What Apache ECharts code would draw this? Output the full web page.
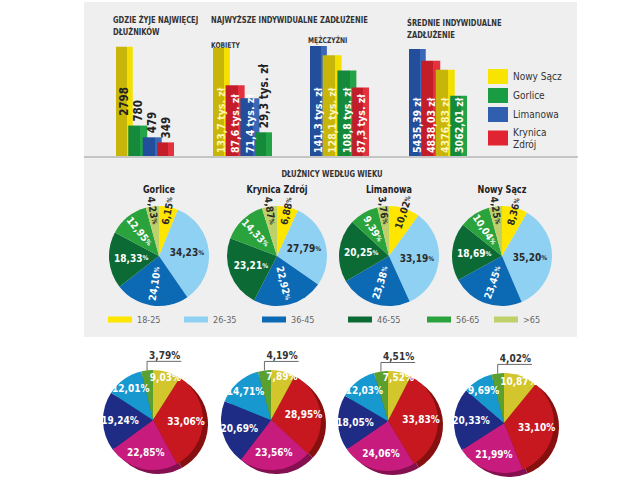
<!DOCTYPE html>
<html><head><meta charset="utf-8">
<script src="https://cdn.jsdelivr.net/npm/echarts@6/dist/echarts.min.js"></script>
<style>html,body{margin:0;padding:0;background:#fff}#c{width:640px;height:480px}</style>
</head><body><div id="c"></div>
<script>
// ---------- DATA ----------
const cities = ['Nowy Sącz', 'Gorlice', 'Limanowa', 'Krynica Zdrój'];
const residentsOrder = ['Nowy Sącz', 'Gorlice', 'Limanowa', 'Krynica Zdrój'];
const residentsValues = [2798, 780, 479, 349];
const womenOrder = ['Nowy Sącz', 'Krynica Zdrój', 'Limanowa', 'Gorlice'];
const womenValues = [133.7, 87.6, 71.4, 29.3];
const menOrder = ['Limanowa', 'Nowy Sącz', 'Gorlice', 'Krynica Zdrój'];
const menValues = [141.3, 128.1, 108.8, 87.3];
const avgOrder = ['Limanowa', 'Krynica Zdrój', 'Nowy Sącz', 'Gorlice'];
const avgValues = [5435.39, 4838.03, 4376.83, 3062.01];

const ageGroups = ['18-25', '26-35', '36-45', '46-55', '56-65', '>65'];
const ageCities = ['Gorlice', 'Krynica Zdrój', 'Limanowa', 'Nowy Sącz'];
const ageGorlice = [6.15, 34.23, 24.10, 18.33, 12.95, 4.23];
const ageKrynica = [6.88, 27.79, 22.92, 23.21, 14.33, 4.87];
const ageLimanowa = [10.02, 33.19, 23.38, 20.25, 9.39, 3.76];
const ageNowySacz = [8.36, 35.20, 23.45, 18.69, 10.04, 4.25];

const pieA = [9.03, 33.06, 22.85, 19.24, 12.01, 3.79];
const pieB = [7.89, 28.95, 23.56, 20.69, 14.71, 4.19];
const pieC = [7.52, 33.83, 24.06, 18.05, 12.03, 4.51];
const pieD = [10.87, 33.10, 21.99, 20.33, 9.69, 4.02];

// ---------- STYLE ----------
const FONT = "'Liberation Sans Narrow','DejaVu Sans Condensed','Liberation Sans',sans-serif";
const cityDark = {'Nowy Sącz':'#c8b50a','Gorlice':'#158a3a','Limanowa':'#224e9c','Krynica Zdrój':'#c41d2a'};
const cityLight = {'Nowy Sącz':'#f4e000','Gorlice':'#22a348','Limanowa':'#3a68b9','Krynica Zdrój':'#e3323e'};
const cityFlat = {'Nowy Sącz':'#f9e300','Gorlice':'#1a9c42','Limanowa':'#2f5fae','Krynica Zdrój':'#e02431'};
function grad(c){
  return new echarts.graphic.LinearGradient(0,0,1,0,[
    {offset:0,color:cityDark[c]},{offset:0.64,color:cityDark[c]},
    {offset:0.64,color:cityLight[c]},{offset:1,color:cityLight[c]}]);
}
const fmtComma = (v, d) => v.toFixed(d).replace('.', ',');
const barSets = [
  {order: residentsOrder, values: residentsValues, fmt: v => String(v)},
  {order: womenOrder, values: womenValues, fmt: v => fmtComma(v,1) + ' tys. zł'},
  {order: menOrder, values: menValues, fmt: v => fmtComma(v,1) + ' tys. zł'},
  {order: avgOrder, values: avgValues, fmt: v => fmtComma(v,2) + ' zł'}
];
const barGridLeft = [116, 213, 310, 409];
const barGridWidth = [58, 59, 59, 58];
const barMax = [2820, 136, 140, 5590];
const barLabelPos = [
  ['inside','top','top','top'],
  ['insideBottom','insideBottom','insideBottom','top'],
  ['insideBottom','insideBottom','insideBottom','insideBottom'],
  ['insideBottom','insideBottom','insideBottom','insideBottom']
];
const barLabelColor = [
  ['#222','#222','#222','#222'],
  ['#fff7b8','#fff','#fff','#222'],
  ['#fff','#fff7b8','#fff','#fff'],
  ['#fff','#fff','#fff7b8','#fff']
];
function barLabel(pos, color){
  const base = {show:true, rotate:90, color, fontSize:10.5, fontWeight:'bold', fontFamily:FONT};
  if (pos === 'inside') return Object.assign(base, {position:'inside', align:'center', verticalAlign:'middle', fontSize:11.5});
  if (pos === 'insideBottom') return Object.assign(base, {position:'insideBottom', align:'left', verticalAlign:'middle', distance:3});
  return Object.assign(base, {position:'top', align:'left', verticalAlign:'middle', distance:4, fontSize:11.5});
}

const ageData = [ageGorlice, ageKrynica, ageLimanowa, ageNowySacz];
const ageCx = [159, 277, 389, 502];
const ageCy = 256, ageR = 50;
const ageColors = ['#ffe600','#8fd1f2','#0c69b4','#0c6b34','#2ba33c','#bdd06a'];
const ageText = ['#2a2a2a','#2a2a2a','#fff','#fff','#fff','#2a2a2a'];
const ageBand = ['far','mid','mid','mid','near','far'];
const ageBandRadius = {mid:1.0, near:1.14, far:1.72};
const ageRot = ['radial',0,'radial',0,'radial','radial'];
const legendX = [108, 184, 262, 348, 427, 494];

const p3Data = [pieA, pieB, pieC, pieD];
const p3Cx = [153, 271, 388, 504];
const p3Cy = [420, 420, 421, 423];
const p3R = 50;
const p3Colors = ['#d3c52c','#c7181f','#c81b7e','#1f2c86','#1799cf','#5b9f2f'];
const p3Dark = ['#8e8414','#86100f','#85104f','#121b57','#0d6690','#3a6b1c'];
const p3Band = ['far','near','near','near','mid','out'];
const p3BandRadius = {near:1.2, mid:1.42, far:1.66};

// ---------- BUILD ----------
const chart = echarts.init(document.getElementById('c'), null, {renderer:'svg', width:640, height:480});
const grid = [], xAxis = [], yAxis = [], series = [], legend = [], graphic = [];

graphic.push({type:'rect', z:-10, shape:{x:84, y:2, width:493, height:335}, style:{fill:'#efefef'}, silent:true});
graphic.push({type:'line', z:-5, shape:{x1:84, y1:157, x2:578, y2:157}, style:{stroke:'#9a9a9a', lineWidth:1}, silent:true});

function txt(x, y, text, font, fill, align, sx){
  graphic.push({type:'text', x, y, scaleX: sx || 0.84, silent:true,
    style:{text, font, fill: fill || '#333', align: align || 'left', verticalAlign:'top', lineHeight:12}});
}
const TF = 'bold 9px ' + FONT;
txt(113, 14, 'GDZIE ŻYJE NAJWIĘCEJ\nDŁUŻNIKÓW', TF);
txt(211, 14, 'NAJWYŻSZE INDYWIDUALNE ZADŁUŻENIE', TF);
txt(211, 39, 'KOBIETY', 'bold 8px ' + FONT);
txt(308, 34, 'MĘŻCZYŹNI', 'bold 8px ' + FONT);
txt(407, 17, 'ŚREDNIE INDYWIDUALNE\nZADŁUŻENIE', TF);
txt(332, 168, 'DŁUŻNICY WEDŁUG WIEKU', TF, '#333', 'center');
ageCities.forEach((c, i) => txt(ageCx[i], 183, c, 'bold 11px ' + FONT, '#222', 'center', 0.82));

barSets.forEach((s, g) => {
  grid.push({left: barGridLeft[g], width: barGridWidth[g], top: 46, height: 110});
  xAxis.push({type:'category', gridIndex:g, data:s.order, show:false});
  yAxis.push({type:'value', gridIndex:g, min:0, max:barMax[g], show:false});
  series.push({
    type:'bar', xAxisIndex:g, yAxisIndex:g, barWidth:19, animation:false, silent:true,
    data: s.values.map((v, j) => ({
      value: v,
      itemStyle: {color: grad(s.order[j])},
      label: Object.assign(barLabel(barLabelPos[g][j], barLabelColor[g][j]), {formatter: p => s.fmt(p.value)})
    }))
  });
});
// legend-only series for the cities
cities.forEach(c => series.push({type:'line', name:c, xAxisIndex:0, yAxisIndex:0, data:[], itemStyle:{color:cityFlat[c]}}));
legend.push({
  orient:'vertical', left:488, top:69, padding:0, itemWidth:20, itemHeight:15, itemGap:4, icon:'rect',
  selectedMode:false,
  data: cities.map(c => ({name:c, itemStyle:{color:cityFlat[c]}})),
  formatter: n => n === 'Krynica Zdrój' ? 'Krynica\nZdrój' : n,
  textStyle:{fontSize:10, color:'#333', fontFamily:FONT, lineHeight:12}
});

const pieBase = {type:'pie', animation:false, startAngle:90, clockwise:true, avoidLabelOverlap:false,
  emphasis:{disabled:true}, labelLine:{show:false}, silent:true};
const ageLabelBase = {position:'inside', fontFamily:FONT,
  formatter: p => '{v|' + fmtComma(p.value,2) + '}{p|%}',
  rich:{v:{fontSize:10, fontWeight:'bold', fontFamily:FONT}, p:{fontSize:6.5, fontWeight:'bold', fontFamily:FONT}}};

ageData.forEach((arr, i) => {
  series.push(Object.assign({}, pieBase, {
    name: 'wiek ' + ageCities[i], center:[ageCx[i], ageCy], radius:[0, ageR],
    label:{show:false},
    data: arr.map((v, j) => ({name: ageGroups[j], value: v, itemStyle:{color: ageColors[j]}}))
  }));
});
Object.keys(ageBandRadius).forEach(band => ageData.forEach((arr, i) => {
  series.push(Object.assign({}, pieBase, {
    name: 'wiek ' + band + ' ' + ageCities[i], center:[ageCx[i], ageCy], radius:[0, ageR * ageBandRadius[band]],
    label: Object.assign({}, ageLabelBase),
    itemStyle:{color:'rgba(0,0,0,0)'},
    data: arr.map((v, j) => ({name: ageGroups[j], value: v, itemStyle:{color:'rgba(0,0,0,0)'},
      label:{show: ageBand[j] === band, rotate: ageRot[j], color: ageText[j]}}))
  }));
}));
ageGroups.forEach((g, j) => legend.push({
  left: legendX[j], top: 315, padding:0, itemWidth:24, itemHeight:6, icon:'rect', selectedMode:false,
  data:[{name:g, itemStyle:{color: ageColors[j]}}],
  textStyle:{fontSize:9, color:'#666', fontFamily:FONT}
}));

const p3Label = {fontFamily:FONT, fontSize:10, fontWeight:'bold', color:'#fff', position:'inside',
  formatter: p => fmtComma(p.value,2) + '%'};
p3Data.forEach((arr, i) => {
  // darker rim (3D thickness)
  series.push(Object.assign({}, pieBase, {
    name:'rim' + i, center:[p3Cx[i] + 5, p3Cy[i] + 4], radius:[0, p3R], label:{show:false}, z:1,
    data: arr.map((v, j) => ({value:v, itemStyle:{color:p3Dark[j]}}))
  }));
  series.push(Object.assign({}, pieBase, {
    name:'top' + i, center:[p3Cx[i], p3Cy[i]], radius:[0, p3R], z:2,
    label: Object.assign({}, p3Label, {position:'outside', color:'#333', fontSize:10}),
    labelLine:{show:true, length:8, length2:12, lineStyle:{color:'#444', width:0.8}},
    labelLayout: params => {
      const pts = params.labelLinePoints;
      if (!pts) return {};
      const p0 = pts[0], topY = p0[1] - 9, w = params.labelRect.width;
      return {x: p0[0] + 2, y: topY - 1, align:'left', verticalAlign:'bottom',
        labelLinePoints: [[p0[0], p0[1]], [p0[0], topY], [p0[0] + w + 3, topY]]};
    },
    data: arr.map((v, j) => ({value:v, itemStyle:{color:p3Colors[j]},
      label:{show: p3Band[j] === 'out'}, labelLine:{show: p3Band[j] === 'out'}}))
  }));
  Object.keys(p3BandRadius).forEach(band => series.push(Object.assign({}, pieBase, {
    name:'lab' + band + i, center:[p3Cx[i], p3Cy[i]], radius:[0, p3R * p3BandRadius[band]], z:3,
    label: Object.assign({}, p3Label),
    data: arr.map((v, j) => ({value:v, itemStyle:{color:'rgba(0,0,0,0)'}, label:{show: p3Band[j] === band}}))
  })));
});

chart.setOption({
  animation:false, backgroundColor:'#ffffff',
  grid, xAxis, yAxis, series, legend, graphic
});
</script>
</body></html>
